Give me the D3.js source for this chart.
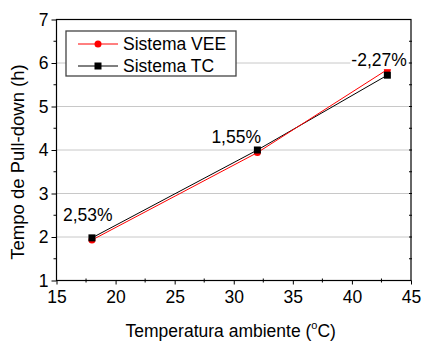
<!DOCTYPE html>
<html>
<head>
<meta charset="utf-8">
<script src="https://cdn.jsdelivr.net/npm/d3@7"></script>
<style>
  body { margin: 0; background: #fff; }
  svg { display: block; font-family: "Liberation Sans", Arial, sans-serif; }
</style>
</head>
<body>
<div id="chart"></div>
<script>
const temps = [18, 32, 43];
const veeValues = [1.93, 3.94, 5.85];
const tcValues = [1.98, 4.0, 5.72];
const diffLabels = ["2,53%", "1,55%", "-2,27%"];
const xTicks = [15, 20, 25, 30, 35, 40, 45];
const yTicks = [1, 2, 3, 4, 5, 6, 7];

const width = 423, height = 341;
const margin = { top: 19.5, right: 12, bottom: 60.5, left: 56.5 };

const svg = d3.select("#chart").append("svg")
  .attr("width", width)
  .attr("height", height);

const x = d3.scaleLinear().domain([15, 45]).range([margin.left, width - margin.right]);
const y = d3.scaleLinear().domain([1, 7]).range([height - margin.bottom, margin.top]);

// gridlines
svg.append("g")
  .selectAll("line")
  .data(yTicks.slice(1, -1))
  .join("line")
  .attr("x1", x(15)).attr("x2", x(45))
  .attr("y1", d => y(d)).attr("y2", d => y(d))
  .attr("stroke", "#c8c8c8")
  .attr("stroke-width", 1);

// left axis
const yMinor = d3.range(1.5, 7, 1);
svg.append("g")
  .attr("transform", `translate(${x(15)},0)`)
  .call(d3.axisLeft(y).tickValues(yTicks).tickFormat(d3.format("d")).tickSize(5).tickPadding(3))
  .call(g => g.select(".domain").remove())
  .call(g => g.selectAll("text").attr("font-size", 17.5).attr("fill", "#000").attr("font-family", null))
  .call(g => g.selectAll(".minor").data(yMinor).join("line")
    .attr("class", "minor").attr("stroke", "#000")
    .attr("x1", -3).attr("x2", 0)
    .attr("y1", d => y(d)).attr("y2", d => y(d)));

// bottom axis
const xMinor = d3.range(17.5, 45, 5);
svg.append("g")
  .attr("transform", `translate(0,${y(1)})`)
  .call(d3.axisBottom(x).tickValues(xTicks).tickFormat(d3.format("d")).tickSize(4).tickPadding(6))
  .call(g => g.select(".domain").remove())
  .call(g => g.selectAll("text").attr("font-size", 17.5).attr("fill", "#000").attr("font-family", null))
  .call(g => g.selectAll(".minor").data(xMinor).join("line")
    .attr("class", "minor").attr("stroke", "#000")
    .attr("y1", -2).attr("y2", 2)
    .attr("x1", d => x(d)).attr("x2", d => x(d)));

// right axis ticks
svg.append("g")
  .selectAll("line")
  .data(d3.range(1.5, 7, 0.5))
  .join("line")
  .attr("x1", x(45) - 2).attr("x2", x(45) + 1)
  .attr("y1", d => y(d)).attr("y2", d => y(d))
  .attr("stroke", "#000");

// frame
svg.append("rect")
  .attr("x", x(15)).attr("y", y(7))
  .attr("width", x(45) - x(15)).attr("height", y(1) - y(7))
  .attr("fill", "none")
  .attr("stroke", "#000")
  .attr("stroke-width", 1.2);

// axis titles
svg.append("text")
  .attr("x", (x(15) + x(45)) / 2 - 3)
  .attr("y", 337)
  .attr("text-anchor", "middle")
  .attr("font-size", 17.5)
  .text("Temperatura ambiente (")
  .append("tspan").attr("font-size", 11).attr("dy", -8).text("o")
  .select(function() { return this.parentNode; })
  .append("tspan").attr("dy", 8).text("C)");

svg.append("text")
  .attr("transform", `translate(24,${162}) rotate(-90)`)
  .attr("text-anchor", "middle")
  .attr("font-size", 18.5)
  .text("Tempo de Pull-down (h)");

// lines
const line = d3.line().x((d, i) => x(temps[i])).y(d => y(d));

svg.append("path").datum(tcValues)
  .attr("d", line).attr("fill", "none").attr("stroke", "#000").attr("stroke-width", 1);
svg.append("path").datum(veeValues)
  .attr("d", line).attr("fill", "none").attr("stroke", "#ff0000").attr("stroke-width", 1);

// markers
svg.append("g").selectAll("circle")
  .data(veeValues)
  .join("circle")
  .attr("cx", (d, i) => x(temps[i]))
  .attr("cy", d => y(d))
  .attr("r", 3.5)
  .attr("fill", "#ff0000");

svg.append("g").selectAll("rect")
  .data(tcValues)
  .join("rect")
  .attr("x", (d, i) => x(temps[i]) - 3.5)
  .attr("y", d => y(d) - 3.5)
  .attr("width", 7).attr("height", 7)
  .attr("fill", "#000");

// difference labels
const labelPos = [
  { dx: -29, dy: -17 },
  { dx: -46, dy: -7 },
  { dx: -36, dy: -9 }
];
const labels = svg.append("g").selectAll("g")
  .data(diffLabels)
  .join("g")
  .attr("transform", (d, i) => `translate(${x(temps[i]) + labelPos[i].dx},${y(tcValues[i]) + labelPos[i].dy})`);
labels.append("rect")
  .attr("x", -1).attr("y", -14)
  .attr("height", 17)
  .attr("fill", "#fff");
labels.append("text")
  .attr("font-size", 17.5)
  .text(d => d)
  .each(function() {
    const w = this.getComputedTextLength();
    d3.select(this.previousSibling).attr("width", w + 2);
  });

// legend
const legend = svg.append("g").attr("transform", "translate(66,31)");
legend.append("rect")
  .attr("width", 170).attr("height", 45)
  .attr("fill", "#fff")
  .attr("stroke", "#444")
  .attr("stroke-width", 1.3);

const legendItems = [
  { name: "Sistema VEE", color: "#ff0000", shape: "circle" },
  { name: "Sistema TC", color: "#000", shape: "square" }
];
const rows = legend.selectAll(".row")
  .data(legendItems)
  .join("g")
  .attr("class", "row")
  .attr("transform", (d, i) => `translate(0,${13 + i * 22})`);
rows.append("line")
  .attr("x1", 12).attr("x2", 52)
  .attr("stroke", d => d.color);
rows.each(function(d) {
  const g = d3.select(this);
  if (d.shape === "circle") {
    g.append("circle").attr("cx", 32).attr("r", 3.5).attr("fill", d.color);
  } else {
    g.append("rect").attr("x", 28.5).attr("y", -3.5).attr("width", 7).attr("height", 7).attr("fill", d.color);
  }
});
rows.append("text")
  .attr("x", 57)
  .attr("y", 6)
  .attr("font-size", 17.5)
  .text(d => d.name);
</script>
</body>
</html>
